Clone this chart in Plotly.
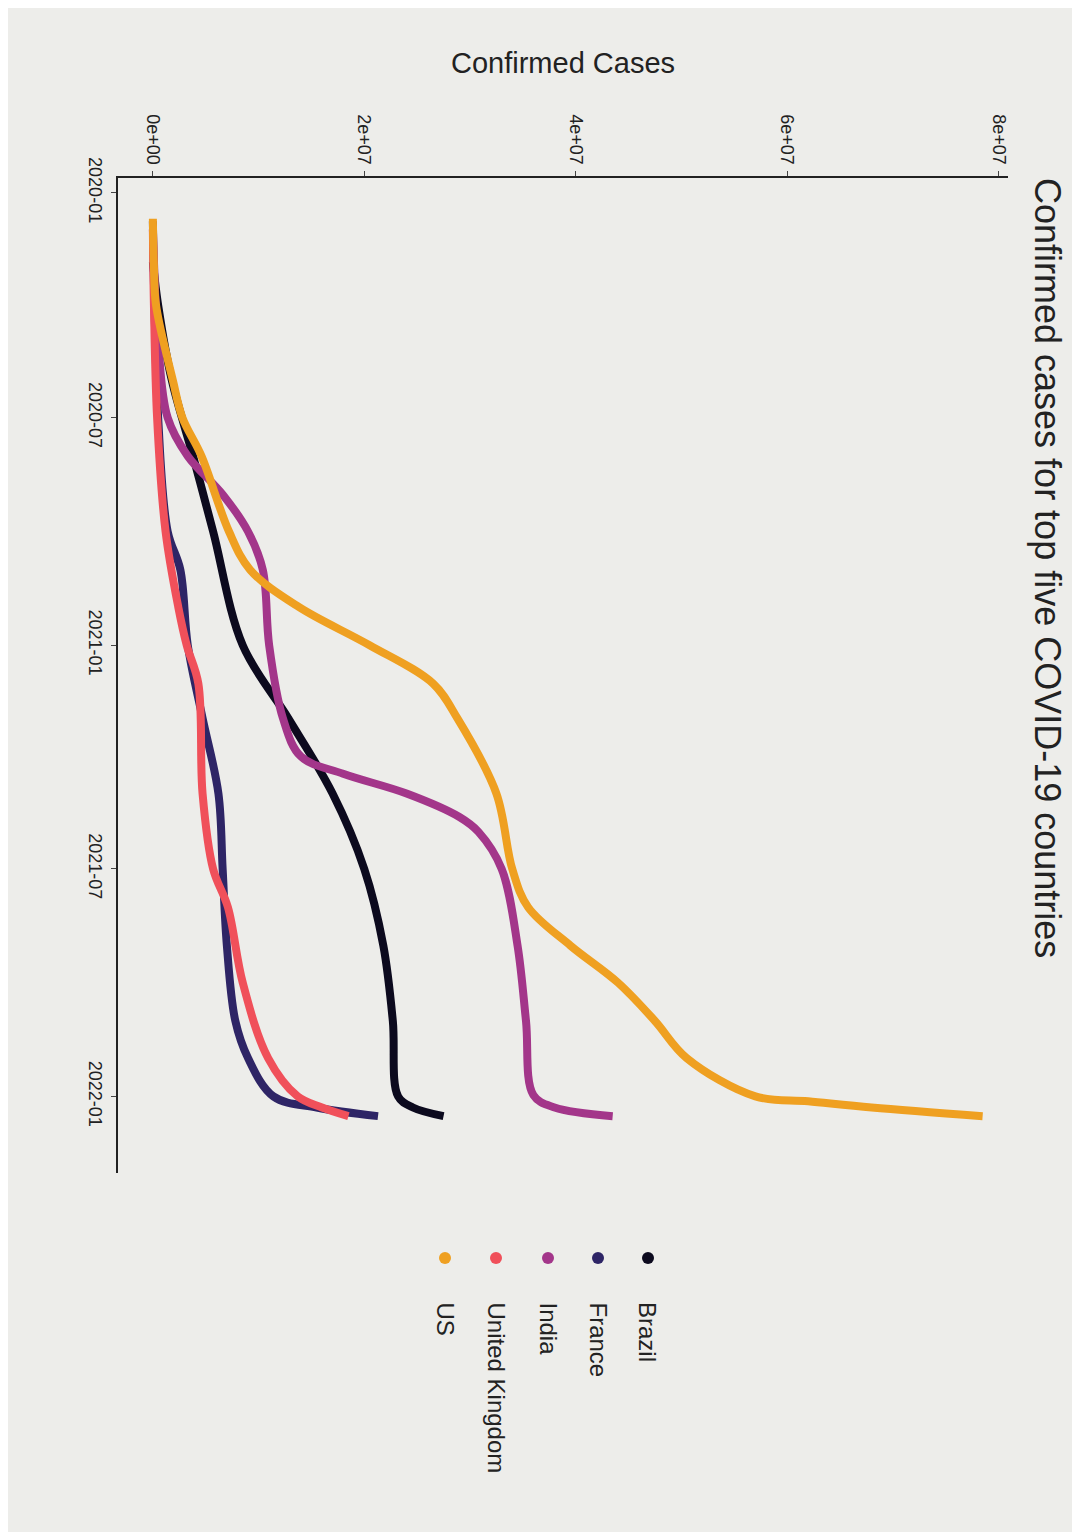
import plotly.graph_objects as go

dates_us = ["2020-01-22","2020-03-01","2020-04-01","2020-06-01","2020-07-01","2020-08-01","2020-10-01","2020-11-01","2020-12-01","2021-01-01","2021-02-01","2021-03-01","2021-05-01","2021-07-01","2021-08-01","2021-09-01","2021-10-01","2021-11-01","2021-12-01","2022-01-01","2022-01-05","2022-01-10","2022-01-17"]
us = [0,0.1e6,0.3e6,1.9e6,2.8e6,4.6e6,7.2e6,9.2e6,13.8e6,20.5e6,26.5e6,28.8e6,32.5e6,34.0e6,35.5e6,39.5e6,44.0e6,47.5e6,50.5e6,57.0e6,62.0e6,68.0e6,78.5e6]

dates_br = ["2020-02-26","2020-04-01","2020-06-01","2020-08-01","2020-10-01","2021-01-01","2021-03-01","2021-05-01","2021-07-01","2021-09-01","2021-11-01","2022-01-01","2022-01-10","2022-01-17"]
brazil = [0,0.5e6,1.8e6,3.8e6,5.7e6,8.5e6,12.8e6,17.0e6,20.0e6,21.8e6,22.7e6,23.2e6,24.6e6,27.5e6]

dates_in = ["2020-01-30","2020-05-01","2020-07-01","2020-08-01","2020-09-01","2020-10-01","2020-11-01","2021-01-01","2021-03-01","2021-04-01","2021-04-15","2021-05-01","2021-05-20","2021-06-01","2021-07-01","2021-09-01","2021-11-01","2021-12-31","2022-01-10","2022-01-17"]
india = [0,0.5e6,1.4e6,3.3e6,6.6e6,9.0e6,10.4e6,11.0e6,12.3e6,14.0e6,18.0e6,24.0e6,29.0e6,30.8e6,33.0e6,34.5e6,35.3e6,36.0e6,38.0e6,43.5e6]

dates_fr = ["2020-01-24","2020-04-01","2020-07-01","2020-10-01","2020-11-01","2021-01-01","2021-03-01","2021-05-01","2021-07-01","2021-09-01","2021-11-01","2021-12-01","2022-01-01","2022-01-10","2022-01-17"]
france = [0,0.15e6,0.5e6,1.4e6,2.6e6,3.3e6,4.7e6,6.2e6,6.6e6,7.0e6,7.8e6,9.0e6,11.4e6,15.5e6,21.3e6]

dates_uk = ["2020-01-31","2020-04-01","2020-07-01","2020-10-01","2020-12-01","2021-01-01","2021-02-01","2021-05-01","2021-07-01","2021-08-01","2021-10-01","2021-12-01","2022-01-01","2022-01-10","2022-01-17"]
uk = [0,0.1e6,0.4e6,1.2e6,2.4e6,3.2e6,4.3e6,4.7e6,5.7e6,7.1e6,8.5e6,10.9e6,13.7e6,16.0e6,18.5e6]

countries = ["Brazil","France","India","United Kingdom","US"]
colors = ["#0c0a1e","#2e2566","#a3368a","#f0505a","#efa021"]
series = [(dates_br,brazil),(dates_fr,france),(dates_in,india),(dates_uk,uk),(dates_us,us)]

fig = go.Figure()
for name,(d,v),c in zip(countries,series,colors):
    fig.add_trace(go.Scatter(x=v,y=d,mode="lines",name=name,line=dict(color=c,width=8,shape="spline"),showlegend=False))

L,R,T,B=110,80,170,367
W,H=1080,1532
pw=W-L-R; ph=H-T-B
def px(x): return (x-L)/pw
def py(y): return (H-B-y)/ph

fig.update_layout(width=W,height=H,margin=dict(l=L,r=R,t=T,b=B),
    paper_bgcolor="#ededea",plot_bgcolor="#ededea",
    font=dict(family="Liberation Sans",color="#222"))
fig.update_xaxes(range=[-3.3e6,8.09e7],side="top",tickvals=[0,2e7,4e7,6e7,8e7],
    ticktext=["0e+00","2e+07","4e+07","6e+07","8e+07"],tickangle=90,showgrid=False,zeroline=False,
    showline=True,linecolor="#222",linewidth=2,ticks="outside",ticklen=5,tickfont=dict(size=18))
fig.update_yaxes(type="date",range=["2022-03-04","2019-12-20"],tickvals=["2020-01-01","2020-07-01","2021-01-01","2021-07-01","2022-01-01"],
    ticktext=["2020-01","2020-07","2021-01","2021-07","2022-01"],tickangle=90,showgrid=False,zeroline=False,
    showline=True,linecolor="#222",linewidth=2,ticks="outside",ticklen=5,tickfont=dict(size=18))

fig.add_annotation(text="Confirmed Cases",xref="paper",yref="paper",x=px(555),y=py(55),
    xanchor="center",yanchor="middle",showarrow=False,font=dict(size=29))
fig.add_annotation(text="Confirmed cases for top five COVID-19 countries",textangle=90,xref="paper",yref="paper",
    x=px(1040),y=py(168),xanchor="center",yanchor="top",showarrow=False,font=dict(size=36))
for i,(name,c) in enumerate(zip(countries,colors)):
    xx=[640,590,540,488,437][i]
    fig.add_shape(type="circle",xref="paper",yref="paper",x0=px(xx-6),x1=px(xx+6),y0=py(1256),y1=py(1244),fillcolor=c,line=dict(width=0))
    fig.add_annotation(text=name,textangle=90,xref="paper",yref="paper",x=px(xx),y=py(1292),
        xanchor="center",yanchor="top",showarrow=False,font=dict(size=24))
fig.write_html("out.html")
